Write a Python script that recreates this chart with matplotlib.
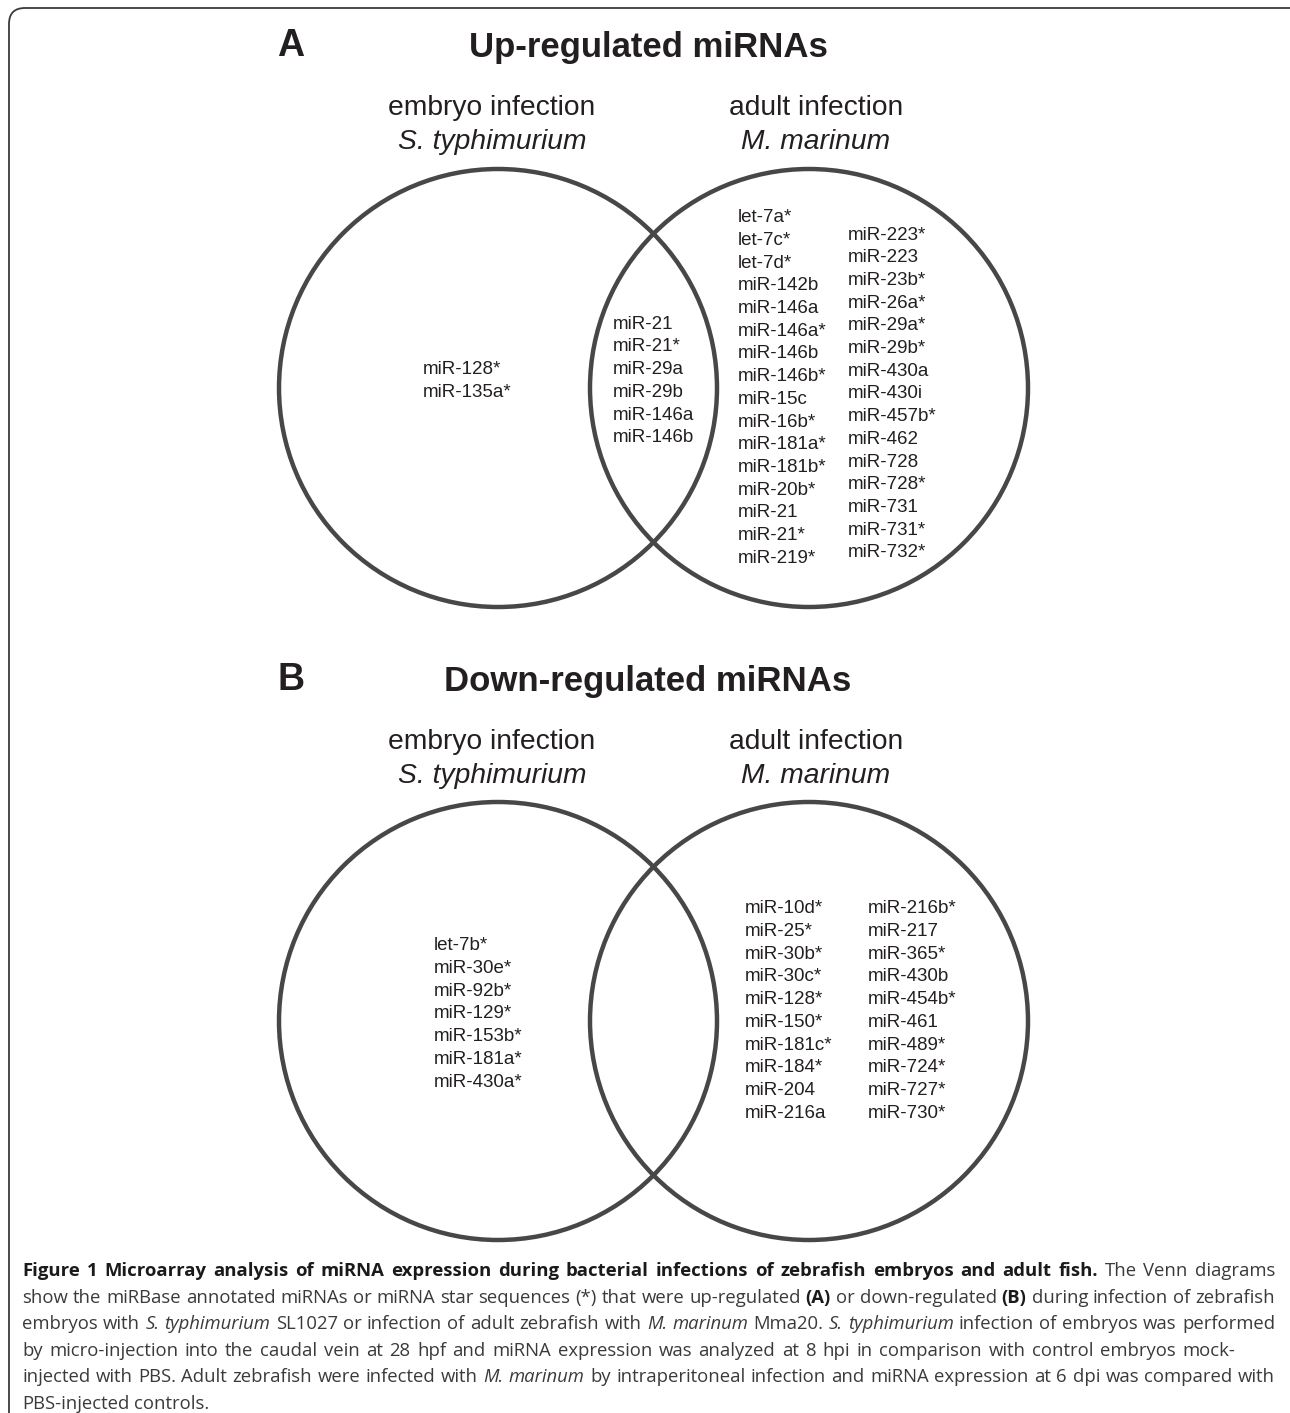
"""Venn diagrams of up- and down-regulated miRNAs (Figure 1)."""
import matplotlib
import matplotlib.pyplot as plt
from matplotlib.patches import Circle, FancyBboxPatch
matplotlib.use('agg')

# panel titles and set headers
panel_letters = ["A", "B"]
panel_titles = ["Up-regulated miRNAs", "Down-regulated miRNAs"]
set_labels = ["embryo infection", "adult infection"]
set_species = ["S. typhimurium", "M. marinum"]

# up-regulated
up_embryo_only = ["miR-128*", "miR-135a*"]
up_shared = ["miR-21", "miR-21*", "miR-29a", "miR-29b", "miR-146a", "miR-146b"]
up_adult_col1 = ["let-7a*", "let-7c*", "let-7d*", "miR-142b", "miR-146a",
                 "miR-146a*", "miR-146b", "miR-146b*", "miR-15c", "miR-16b*",
                 "miR-181a*", "miR-181b*", "miR-20b*", "miR-21", "miR-21*",
                 "miR-219*"]
up_adult_col2 = ["miR-223*", "miR-223", "miR-23b*", "miR-26a*", "miR-29a*",
                 "miR-29b*", "miR-430a", "miR-430i", "miR-457b*", "miR-462",
                 "miR-728", "miR-728*", "miR-731", "miR-731*", "miR-732*"]

# down-regulated
down_embryo_only = ["let-7b*", "miR-30e*", "miR-92b*", "miR-129*", "miR-153b*",
                    "miR-181a*", "miR-430a*"]
down_shared = []
down_adult_col1 = ["miR-10d*", "miR-25*", "miR-30b*", "miR-30c*", "miR-128*",
                   "miR-150*", "miR-181c*", "miR-184*", "miR-204", "miR-216a"]
down_adult_col2 = ["miR-216b*", "miR-217", "miR-365*", "miR-430b", "miR-454b*",
                   "miR-461", "miR-489*", "miR-724*", "miR-727*", "miR-730*"]

# caption, one list of (text, style) per printed line
caption_lines = [
    [("Figure 1 Microarray analysis of miRNA expression during bacterial "
      "infections of zebrafish embryos and adult fish.", "b"),
     ("The Venn diagrams", "n")],
    [("show the miRBase annotated miRNAs or miRNA star sequences (*) that "
      "were up-regulated", "n"), ("(A)", "b"), ("or down-regulated", "n"),
     ("(B)", "b"), ("during infection of zebrafish", "n")],
    [("embryos with", "n"), ("S. typhimurium", "i"),
     ("SL1027 or infection of adult zebrafish with", "n"), ("M. marinum", "i"),
     ("Mma20.", "n"), ("S. typhimurium", "i"),
     ("infection of embryos was performed", "n")],
    [("by micro-injection into the caudal vein at 28 hpf and miRNA expression "
      "was analyzed at 8 hpi in comparison with control embryos mock-", "n")],
    [("injected with PBS. Adult zebrafish were infected with", "n"),
     ("M. marinum", "i"),
     ("by intraperitoneal infection and miRNA expression at 6 dpi was "
      "compared with", "n")],
    [("PBS-injected controls.", "n")],
]
# right end of each caption line (None = natural width)
caption_ends = [1275, 1275, 1275, 1235, 1275, None]

W, H = 1290, 1413
SANS = ['Liberation Sans', 'DejaVu Sans']
CAP = ['Open Sans', 'DejaVu Sans']
TXT = '#231f20'
RING = '#474747'
LINE = 22.7      # list line spacing, px
LIST_FS = 13.5

fig = plt.figure(figsize=(W / 100, H / 100), dpi=100)
ax = fig.add_axes([0, 0, 1, 1])
ax.set_xlim(0, W)
ax.set_ylim(H, 0)
ax.axis('off')

# outer frame, runs off the right and bottom edges
ax.add_patch(FancyBboxPatch((9, 8), 1306 - 9, 1460 - 8,
                            boxstyle='round,pad=0,rounding_size=16',
                            fill=False, ec='#3a3a3a', lw=1.3))


def draw_list(names, x, y_mid):
    """ stacked left-aligned names centred on y_mid """
    y0 = y_mid - (len(names) - 1) / 2.0 * LINE
    for i, name in enumerate(names):
        ax.text(x, y0 + i * LINE, name, fontsize=LIST_FS, family=SANS,
                color=TXT, ha='left', va='center')


def draw_panel(k, dy, cy, embryo_only, shared, col1, col2, lay):
    """ one Venn panel; headers shifted by dy, circles centred at cy """
    ax.text(291, 46 + dy, panel_letters[k], fontsize=27, weight='bold',
            family=SANS, color=TXT, ha='center', va='center')
    ax.text(648, 48 + dy, panel_titles[k], fontsize=25, weight='bold',
            family=SANS, color=TXT, ha='center', va='center')
    for cx, lab, sp in zip([492, 816], set_labels, set_species):
        ax.text(cx, 108 + dy, lab, fontsize=20.3, family=SANS, color=TXT,
                ha='center', va='center')
        ax.text(cx, 142 + dy, sp, fontsize=20.3, family=SANS, style='italic',
                color=TXT, ha='center', va='center')
    for cx in [498, 809]:
        ax.add_patch(Circle((cx, cy), 219, fill=False, ec=RING, lw=3.2))
    draw_list(embryo_only, lay['x_left'], lay['y_left'])
    if shared:
        draw_list(shared, 613, lay['y_left'])
    draw_list(col1, lay['x_c1'], lay['y_c1'])
    draw_list(col2, lay['x_c2'], lay['y_c2'])


draw_panel(0, 0, 388, up_embryo_only, up_shared, up_adult_col1, up_adult_col2,
           dict(x_left=423, y_left=381, x_c1=738, y_c1=388, x_c2=848, y_c2=394))
draw_panel(1, 634, 1021, down_embryo_only, down_shared, down_adult_col1,
           down_adult_col2,
           dict(x_left=434, y_left=1014, x_c1=745, y_c1=1011, x_c2=868,
                y_c2=1011))

# caption with mixed bold / italic runs
renderer = fig.canvas.get_renderer()


def seg_kw(style, size):
    kw = dict(fontsize=size, family=CAP, color='#3a3a3a')
    if style == 'b':
        kw.update(weight='bold', color='#1a1a1a')
    if style == 'i':
        kw.update(style='italic')
    return kw


def measure(s, style, size):
    t = ax.text(0, 0, s, **seg_kw(style, size))
    w = t.get_window_extent(renderer).width
    t.remove()
    return w


def words_of(line):
    return [(w, st) for s, st in line for w in s.split(' ')]


def natural_width(line, size, space):
    ws = words_of(line)
    return sum(measure(w, st, size) for w, st in ws) + space * (len(ws) - 1)


base = 14.0
sp_base = measure("n n", "n", base) - measure("nn", "n", base)
widest = max(natural_width(l, base, sp_base) for l in caption_lines)
cap_fs = base * 1253.0 / widest
space = measure("n n", "n", cap_fs) - measure("nn", "n", cap_fs)

for i, line in enumerate(caption_lines):
    ws = words_of(line)
    gap = space
    if caption_ends[i] is not None and len(ws) > 1:
        nat = natural_width(line, cap_fs, space)
        gap = space + (caption_ends[i] - 22 - nat) / (len(ws) - 1)
    x = 22
    y = 1276 + i * 26.6
    for w, st in ws:
        ax.text(x, y, w, ha='left', va='baseline', **seg_kw(st, cap_fs))
        x += measure(w, st, cap_fs) + gap

fig.savefig('out.png', dpi=100)
